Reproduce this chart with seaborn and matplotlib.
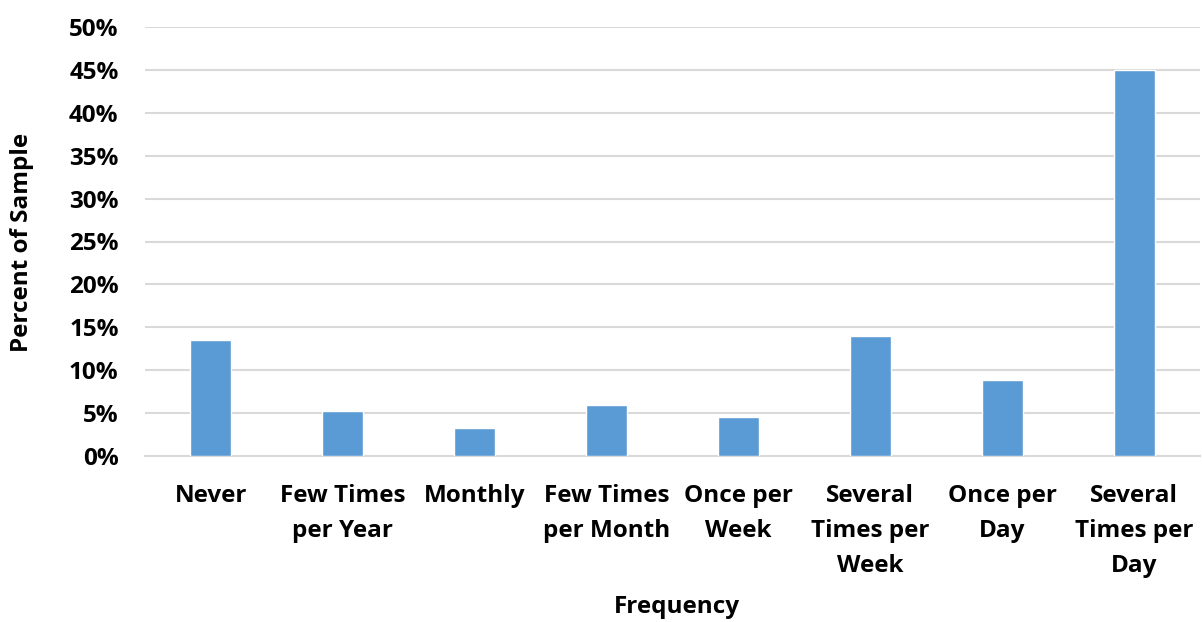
import matplotlib
matplotlib.use("Agg")
import matplotlib.pyplot as plt
import seaborn as sns
import pandas as pd
from matplotlib.ticker import FuncFormatter, MultipleLocator

categories = ["Never", "Few Times\nper Year", "Monthly", "Few Times\nper Month",
              "Once per\nWeek", "Several\nTimes per\nWeek", "Once per\nDay",
              "Several\nTimes per\nDay"]
percents = [13.5, 5.3, 3.3, 6.0, 4.5, 14.0, 8.8, 45.0]

sns.set_theme(style="white")
plt.rcParams['font.family'] = ['Open Sans', 'DejaVu Sans']

FS = 17.5

df = pd.DataFrame({"Frequency": categories, "Percent": percents})

fig = plt.figure(figsize=(12.02, 6.22), dpi=100)
ax = fig.add_axes([145/1202, 1 - 456/622, 1055/1202, (456-27)/622])

sns.barplot(data=df, x="Frequency", y="Percent", color="#5B9BD5", width=0.31,
            saturation=1, ax=ax, zorder=3)

ax.set_ylim(0, 50)
ax.yaxis.set_major_locator(MultipleLocator(5))
ax.yaxis.set_major_formatter(FuncFormatter(lambda v, p: f"{int(v)}%"))
ax.grid(axis="y", color="#D9D9D9", linewidth=1.5, zorder=0)
ax.set_axisbelow(True)
for s in ["top", "right", "left"]:
    ax.spines[s].set_visible(False)
ax.spines["bottom"].set_color("#D9D9D9")
ax.spines["bottom"].set_linewidth(1.5)
ax.tick_params(axis="both", length=0)
ax.tick_params(axis="y", pad=19)
ax.tick_params(axis="x", pad=20)

for lab in ax.get_yticklabels():
    lab.set_fontsize(FS)
    lab.set_fontweight("bold")
    lab.set_color("black")
for lab in ax.get_xticklabels():
    lab.set_fontsize(FS)
    lab.set_fontweight("bold")
    lab.set_linespacing(1.62)
    lab.set_color("black")

ax.set_xlabel("")
ax.set_ylabel("")
fig.text(22/1202, 1 - 242/622, "Percent of Sample", rotation=90, ha="center",
         va="center", fontsize=FS, fontweight="bold", color="black")
fig.text(677/1202, 1 - 607/622, "Frequency", ha="center", va="center",
         fontsize=FS, fontweight="bold", color="black")

fig.savefig("out.png", dpi=100, facecolor="white")
